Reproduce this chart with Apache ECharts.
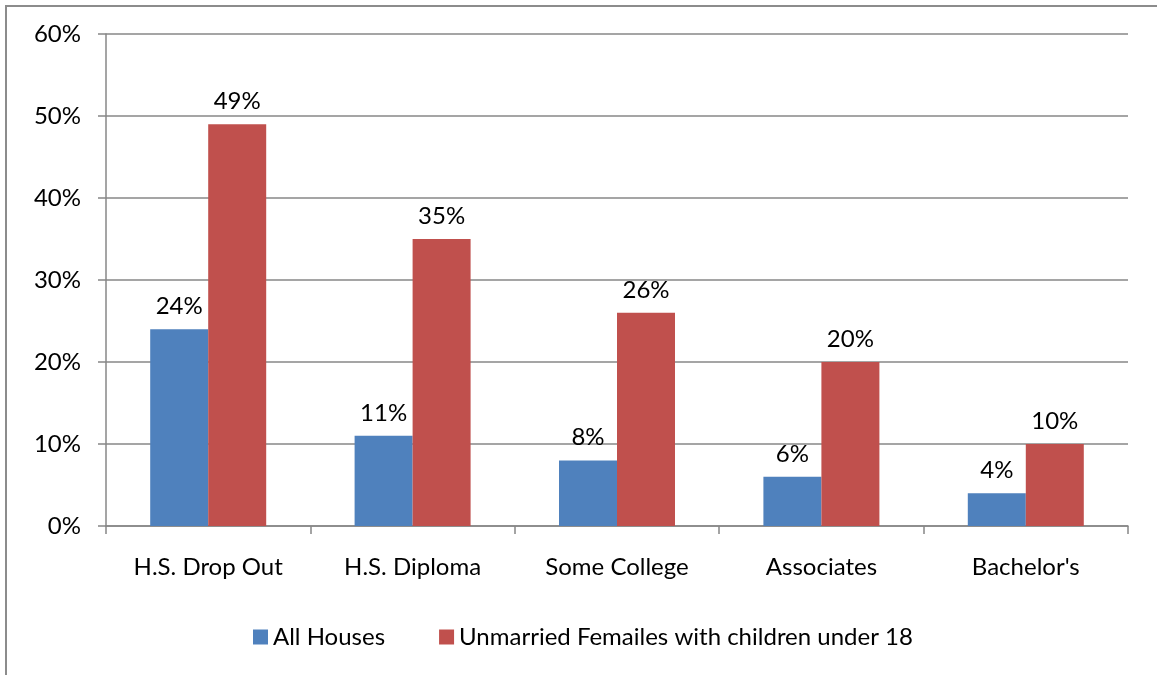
<!DOCTYPE html>
<html>
<head>
<meta charset="utf-8">
<script src="https://cdn.jsdelivr.net/npm/echarts@6/dist/echarts.min.js"></script>
<style>
  html, body { margin: 0; padding: 0; background: #fff; }
  #chart { width: 1157px; height: 675px; }
  .frame {
    position: absolute; left: 5px; top: 5px; right: -10px; bottom: -10px;
    border-left: 2px solid #8c8c8c; border-top: 2px solid #8c8c8c;
    pointer-events: none;
  }
</style>
</head>
<body>
<div id="chart"></div>
<div class="frame"></div>
<script>
const categories = ["H.S. Drop Out", "H.S. Diploma", "Some College", "Associates", "Bachelor's"];
const allHouses = [24, 11, 8, 6, 4];
const unmarriedFemales = [49, 35, 26, 20, 10];
const seriesNames = ["All Houses", "Unmarried Femailes with children under 18"];

const chart = echarts.init(document.getElementById("chart"));
const font = "Lato, 'Open Sans', sans-serif";
const labelStyle = {
  show: true,
  position: "top",
  distance: 11,
  color: "#000",
  fontSize: 24,
  fontFamily: font,
  formatter: "{c}%"
};

chart.setOption({
  animation: false,
  textStyle: { fontFamily: font },
  grid: { left: 106, right: 29, top: 34, bottom: 149 },
  legend: {
    top: 620,
    left: 248,
    icon: "rect",
    itemWidth: 15,
    itemHeight: 15,
    itemGap: 54,
    textStyle: { fontSize: 24, color: "#000", fontFamily: font },
    data: seriesNames
  },
  xAxis: {
    type: "category",
    data: categories,
    axisLine: { lineStyle: { color: "#878787", width: 1.5 } },
    axisTick: { show: true, length: 8, lineStyle: { color: "#878787", width: 1.5 } },
    axisLabel: { color: "#000", fontSize: 24, margin: 29, fontFamily: font }
  },
  yAxis: {
    type: "value",
    min: 0,
    max: 60,
    interval: 10,
    axisLine: { show: true, lineStyle: { color: "#878787", width: 1.5 } },
    axisTick: { show: true, length: 8, lineStyle: { color: "#878787", width: 1.5 } },
    splitLine: { lineStyle: { color: "#878787", width: 1.5 } },
    axisLabel: { color: "#000", fontSize: 24, margin: 25, formatter: "{value}%", fontFamily: font }
  },
  series: [
    {
      name: seriesNames[0],
      type: "bar",
      data: allHouses,
      barWidth: 58,
      barGap: "0%",
      itemStyle: { color: "#4F81BD" },
      label: labelStyle
    },
    {
      name: seriesNames[1],
      type: "bar",
      data: unmarriedFemales,
      barWidth: 58,
      itemStyle: { color: "#C0504D" },
      label: labelStyle
    }
  ]
});
</script>
</body>
</html>
